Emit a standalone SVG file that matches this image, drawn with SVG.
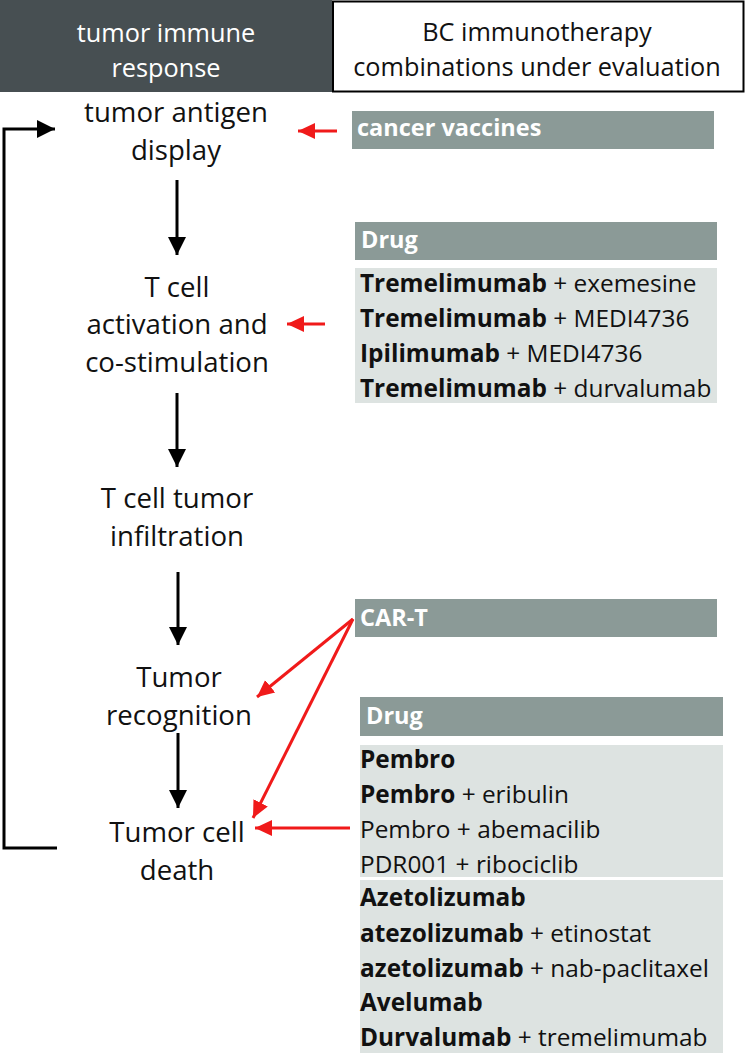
<svg xmlns="http://www.w3.org/2000/svg" width="745" height="1054" viewBox="0 0 745 1054">
<style>
.hd{font-family:"Open Sans","Liberation Sans",sans-serif;font-size:25.3px;text-anchor:middle}
.st{font-family:"Open Sans","Liberation Sans",sans-serif;font-size:27.6px;text-anchor:middle;fill:#111}
.bx{fill:#8b9a97}
.lt{fill:#dde3e1}
.bt{font-family:"Open Sans","Liberation Sans",sans-serif;font-size:23.5px;font-weight:bold;fill:#fff}
.dt{font-family:"Open Sans","Liberation Sans",sans-serif;font-size:24.4px;fill:#111}
.b{font-weight:bold}
.ka{stroke:#000;stroke-width:3;fill:none}
.ra{stroke:#f01a1a;stroke-width:3;fill:none}
</style>
<defs>
<marker id="kh" markerUnits="userSpaceOnUse" markerWidth="20" markerHeight="20" viewBox="0 0 20 20" refX="18" refY="10" orient="auto"><path d="M0,1 L18,10 L0,19 Z" fill="#000"/></marker>
<marker id="rh" markerUnits="userSpaceOnUse" markerWidth="18" markerHeight="18" viewBox="0 0 18 18" refX="17" refY="9" orient="auto"><path d="M0,1 L17,9 L0,17 Z" fill="#f01a1a"/></marker>
</defs>
<g id="header-left"><rect x="0" y="0" width="332" height="92" fill="#474f52"/><text class="hd" x="166" y="42" fill="#fff">tumor immune</text><text class="hd" x="166" y="77" fill="#fff">response</text></g>
<g id="header-right"><rect x="333" y="1.5" width="410.5" height="90" fill="#fff" stroke="#000" stroke-width="2"/><text class="hd" x="537" y="41" fill="#111">BC immunotherapy</text><text class="hd" x="537" y="76" fill="#111">combinations under evaluation</text></g>
<g id="step1"><text class="st" x="176" y="122">tumor antigen</text><text class="st" x="176" y="160">display</text></g>
<g id="step2"><text class="st" x="177" y="297">T cell</text><text class="st" x="177" y="334">activation and</text><text class="st" x="177" y="372">co-stimulation</text></g>
<g id="step3"><text class="st" x="177" y="508">T cell tumor</text><text class="st" x="177" y="546">infiltration</text></g>
<g id="step4"><text class="st" x="179" y="687">Tumor</text><text class="st" x="179" y="725">recognition</text></g>
<g id="step5"><text class="st" x="177" y="842">Tumor cell</text><text class="st" x="177" y="880">death</text></g>
<g id="cancer-vaccines"><rect class="bx" x="352" y="111" width="362" height="38"/><text class="bt" x="357" y="136">cancer vaccines</text></g>
<g id="drug1"><rect class="bx" x="355" y="222" width="362" height="38"/><text class="bt" x="361" y="248">Drug</text>
<rect class="lt" x="355" y="268" width="362" height="135"/>
<text class="dt" x="360" y="292"><tspan class="b">Tremelimumab</tspan> + exemesine</text>
<text class="dt" x="360" y="327"><tspan class="b">Tremelimumab</tspan> + MEDI4736</text>
<text class="dt" x="360" y="362"><tspan class="b">Ipilimumab</tspan> + MEDI4736</text>
<text class="dt" x="360" y="397"><tspan class="b">Tremelimumab</tspan> + durvalumab</text></g>
<g id="car-t"><rect class="bx" x="355" y="599" width="362" height="38"/><text class="bt" x="360" y="626">CAR-T</text></g>
<g id="drug2"><rect class="bx" x="360" y="697" width="363" height="39"/><text class="bt" x="366" y="724">Drug</text>
<rect class="lt" x="360" y="745" width="363" height="132"/>
<text class="dt" x="360" y="768"><tspan class="b">Pembro</tspan></text>
<text class="dt" x="360" y="803"><tspan class="b">Pembro</tspan> + eribulin</text>
<text class="dt" x="360" y="838">Pembro + abemacilib</text>
<text class="dt" x="360" y="873">PDR001 + ribociclib</text>
<rect class="lt" x="360" y="880" width="363" height="173"/>
<text class="dt" x="360" y="906"><tspan class="b">Azetolizumab</tspan></text>
<text class="dt" x="360" y="942"><tspan class="b">atezolizumab</tspan> + etinostat</text>
<text class="dt" x="360" y="977"><tspan class="b">azetolizumab</tspan> + nab-paclitaxel</text>
<text class="dt" x="360" y="1011"><tspan class="b">Avelumab</tspan></text>
<text class="dt" x="360" y="1046"><tspan class="b">Durvalumab</tspan> + tremelimumab</text></g>
<g id="connectors">
<line class="ka" x1="177" y1="180" x2="177" y2="255" marker-end="url(#kh)"/>
<line class="ka" x1="177" y1="393" x2="177" y2="467" marker-end="url(#kh)"/>
<line class="ka" x1="178" y1="572" x2="178" y2="645" marker-end="url(#kh)"/>
<line class="ka" x1="178" y1="733" x2="178" y2="808" marker-end="url(#kh)"/>
<polyline class="ka" points="57,848 4,848 4,129 55,129" marker-end="url(#kh)"/>
<line class="ra" x1="337" y1="131" x2="298" y2="131" marker-end="url(#rh)"/>
<line class="ra" x1="325" y1="324" x2="287" y2="324" marker-end="url(#rh)"/>
<line class="ra" x1="353" y1="619" x2="257" y2="697" marker-end="url(#rh)"/>
<line class="ra" x1="353" y1="619" x2="253" y2="818" marker-end="url(#rh)"/>
<line class="ra" x1="350" y1="828" x2="255" y2="828" marker-end="url(#rh)"/>
</g>
</svg>
